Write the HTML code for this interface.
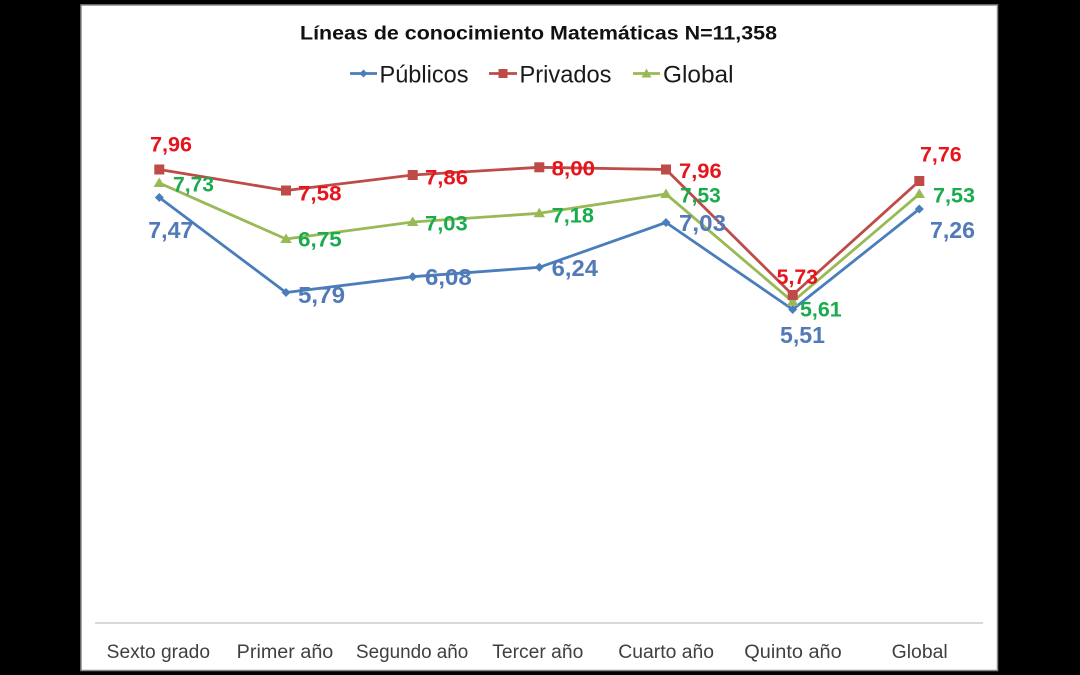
<!DOCTYPE html>
<html>
<head>
<meta charset="utf-8">
<style>
  html,body{margin:0;padding:0;background:#000;}
  svg{display:block;}
  text{font-family:"Liberation Sans",sans-serif;}
</style>
</head>
<body>
<svg width="1080" height="675" viewBox="0 0 1080 675" xmlns="http://www.w3.org/2000/svg">
  <rect x="0" y="0" width="1080" height="675" fill="#000"/>
  <rect x="81" y="5" width="916.5" height="665.5" fill="#fff" stroke="#8a8a8a" stroke-width="1.5"/>

  <!-- Title -->
  <text x="300" y="39.5" font-size="19.5" font-weight="bold" fill="#111" textLength="477" lengthAdjust="spacingAndGlyphs">Líneas de conocimiento Matemáticas  N=11,358</text>

  <!-- Legend -->
  <g>
    <line x1="350" y1="73.5" x2="377" y2="73.5" stroke="#4a7ebb" stroke-width="2.8"/>
    <polygon points="363.5,69.5 367.5,73.5 363.5,77.5 359.5,73.5" fill="#4a7ebb"/>
    <text x="379.5" y="82.5" font-size="24" fill="#1a1a1a" textLength="89" lengthAdjust="spacingAndGlyphs">Públicos</text>

    <line x1="489" y1="73.5" x2="517" y2="73.5" stroke="#be4b48" stroke-width="2.8"/>
    <rect x="498.5" y="69" width="9" height="9" fill="#be4b48"/>
    <text x="519.5" y="82.5" font-size="24" fill="#1a1a1a" textLength="92" lengthAdjust="spacingAndGlyphs">Privados</text>

    <line x1="633" y1="73.5" x2="660" y2="73.5" stroke="#98b954" stroke-width="2.8"/>
    <polygon points="646.5,68.5 651.5,77.5 641.5,77.5" fill="#98b954"/>
    <text x="663" y="82.5" font-size="24" fill="#1a1a1a" textLength="70.5" lengthAdjust="spacingAndGlyphs">Global</text>
  </g>

  <!-- Axis -->
  <line x1="95" y1="623" x2="983" y2="623" stroke="#d9d9d9" stroke-width="2"/>

  <!-- Category labels -->
  <g font-size="19" fill="#3f3f3f">
    <text x="106.7" y="658" textLength="103.3" lengthAdjust="spacingAndGlyphs">Sexto grado</text>
    <text x="236.7" y="658" textLength="96.6" lengthAdjust="spacingAndGlyphs">Primer año</text>
    <text x="356" y="658" textLength="112.3" lengthAdjust="spacingAndGlyphs">Segundo año</text>
    <text x="492.3" y="658" textLength="91" lengthAdjust="spacingAndGlyphs">Tercer año</text>
    <text x="618.3" y="658" textLength="95.7" lengthAdjust="spacingAndGlyphs">Cuarto año</text>
    <text x="744.3" y="658" textLength="97.4" lengthAdjust="spacingAndGlyphs">Quinto año</text>
    <text x="891.7" y="658" textLength="56" lengthAdjust="spacingAndGlyphs">Global</text>
  </g>

  <!-- Públicos (blue) -->
  <polyline fill="none" stroke="#4a7ebb" stroke-width="2.8" stroke-linejoin="round"
    points="159.3,197.5 286,292.5 412.7,276.7 539.3,267.3 666,222.5 792.7,309.5 919.3,209"/>
  <g fill="#4a7ebb">
    <polygon points="159.3,193 163.8,197.5 159.3,202 154.8,197.5"/>
    <polygon points="286,288 290.5,292.5 286,297 281.5,292.5"/>
    <polygon points="412.7,272.2 417.2,276.7 412.7,281.2 408.2,276.7"/>
    <polygon points="539.3,262.8 543.8,267.3 539.3,271.8 534.8,267.3"/>
    <polygon points="666,218 670.5,222.5 666,227 661.5,222.5"/>
    <polygon points="792.7,305 797.2,309.5 792.7,314 788.2,309.5"/>
    <polygon points="919.3,204.5 923.8,209 919.3,213.5 914.8,209"/>
  </g>

  <!-- Global (green) -->
  <polyline fill="none" stroke="#98b954" stroke-width="2.8" stroke-linejoin="round"
    points="159.3,183 286,239 412.7,222 539.3,213.3 666,194 792.7,301.7 919.3,194"/>
  <g fill="#98b954">
    <polygon points="159.3,177.5 165,187 153.6,187"/>
    <polygon points="286,233.5 291.7,243 280.3,243"/>
    <polygon points="412.7,216.5 418.4,226 407,226"/>
    <polygon points="539.3,207.8 545,217.3 533.6,217.3"/>
    <polygon points="666,188.5 671.7,198 660.3,198"/>
    <polygon points="792.7,296.2 798.4,305.7 787,305.7"/>
    <polygon points="919.3,188.5 925,198 913.6,198"/>
  </g>

  <!-- Privados (red) -->
  <polyline fill="none" stroke="#be4b48" stroke-width="2.8" stroke-linejoin="round"
    points="159.3,169.5 286,190.5 412.7,175 539.3,167.3 666,169.5 792.7,295 919.3,181"/>
  <g fill="#be4b48">
    <rect x="154.3" y="164.5" width="10" height="10"/>
    <rect x="281" y="185.5" width="10" height="10"/>
    <rect x="407.7" y="170" width="10" height="10"/>
    <rect x="534.3" y="162.3" width="10" height="10"/>
    <rect x="661" y="164.5" width="10" height="10"/>
    <rect x="787.7" y="290" width="10" height="10"/>
    <rect x="914.3" y="176" width="10" height="10"/>
  </g>

  <!-- Red labels -->
  <g font-size="21" font-weight="bold" fill="#e8141c">
    <text x="150" y="151.5" textLength="42" lengthAdjust="spacingAndGlyphs">7,96</text>
    <text x="298" y="200.5" textLength="43.5" lengthAdjust="spacingAndGlyphs">7,58</text>
    <text x="425" y="184.5" textLength="43" lengthAdjust="spacingAndGlyphs">7,86</text>
    <text x="551.7" y="175.5" textLength="43.3" lengthAdjust="spacingAndGlyphs">8,00</text>
    <text x="679" y="178" textLength="42.7" lengthAdjust="spacingAndGlyphs">7,96</text>
    <text x="776.7" y="284" textLength="41.3" lengthAdjust="spacingAndGlyphs">5,73</text>
    <text x="920" y="161.5" textLength="41.7" lengthAdjust="spacingAndGlyphs">7,76</text>
  </g>

  <!-- Green labels -->
  <g font-size="21" font-weight="bold" fill="#1aab4f">
    <text x="173" y="191.5" textLength="41" lengthAdjust="spacingAndGlyphs">7,73</text>
    <text x="298" y="246.5" textLength="43.7" lengthAdjust="spacingAndGlyphs">6,75</text>
    <text x="425" y="230.5" textLength="42.7" lengthAdjust="spacingAndGlyphs">7,03</text>
    <text x="551.7" y="222.5" textLength="42.3" lengthAdjust="spacingAndGlyphs">7,18</text>
    <text x="680" y="202.5" textLength="40.7" lengthAdjust="spacingAndGlyphs">7,53</text>
    <text x="800" y="316.5" textLength="41.7" lengthAdjust="spacingAndGlyphs">5,61</text>
    <text x="933" y="202.5" textLength="42" lengthAdjust="spacingAndGlyphs">7,53</text>
  </g>

  <!-- Blue labels -->
  <g font-size="23" font-weight="bold" fill="#5279b8">
    <text x="148.3" y="238" textLength="45" lengthAdjust="spacingAndGlyphs">7,47</text>
    <text x="298" y="303" textLength="47" lengthAdjust="spacingAndGlyphs">5,79</text>
    <text x="425" y="285" textLength="46.7" lengthAdjust="spacingAndGlyphs">6,08</text>
    <text x="551.7" y="276" textLength="46.3" lengthAdjust="spacingAndGlyphs">6,24</text>
    <text x="679" y="231" textLength="47" lengthAdjust="spacingAndGlyphs">7,03</text>
    <text x="780" y="343" textLength="45" lengthAdjust="spacingAndGlyphs">5,51</text>
    <text x="930" y="238" textLength="45" lengthAdjust="spacingAndGlyphs">7,26</text>
  </g>
</svg>
</body>
</html>
